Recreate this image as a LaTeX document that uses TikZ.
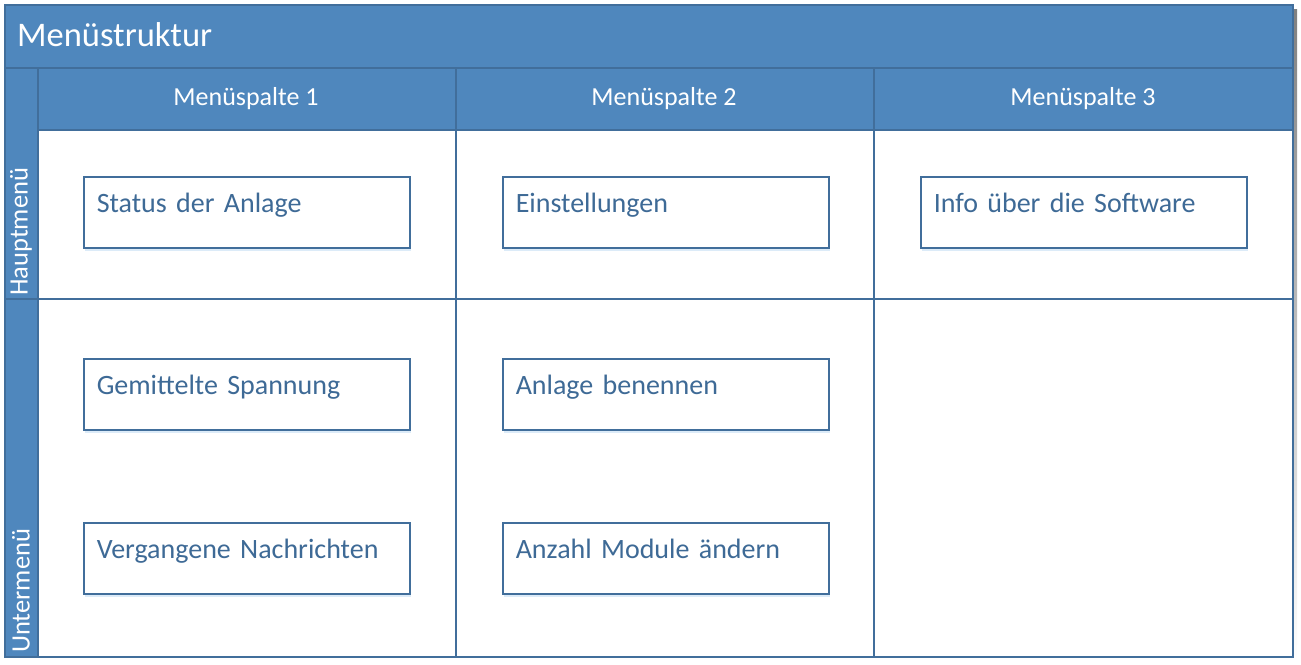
\documentclass[tikz,border=0pt]{standalone}
\usepackage{fontspec}
\setmainfont{Carlito}
\usetikzlibrary{shadows}
\definecolor{hdr}{RGB}{79,135,189}
\definecolor{edge}{RGB}{65,110,155}
\definecolor{txt}{RGB}{62,106,150}
\definecolor{shade}{RGB}{220,235,248}
\begin{document}
\begin{tikzpicture}[x=1pt,y=-1pt,
  hline/.style={draw=edge, line width=1.5pt},
  title/.style={anchor=base west, text=white, font=\fontsize{34.5}{38}\selectfont, inner sep=0},
  colhead/.style={anchor=center, text=white, font=\fontsize{26}{29}\selectfont, inner sep=0},
  rowlabel/.style={rotate=90, anchor=west, text=white, font=\fontsize{26.5}{29}\selectfont, inner sep=0},
  mbox/.style={draw=edge, line width=1.5pt, fill=white, anchor=north west,
    minimum width=326pt, text width=300pt, align=left, inner xsep=13pt, inner ysep=0pt,
    text height=36pt, text depth=35pt, text=txt, font=\fontsize{28}{31}\selectfont,
    drop shadow={shadow xshift=1pt, shadow yshift=-3pt, fill=shade, opacity=1}}
]
\useasboundingbox (0,0) rectangle (1301,664);
% outer shadow
\fill[shade] (7,9) rectangle (1297,662);
% background and bands
\fill[white] (5,5) rectangle (1293,657);
\fill[hdr] (5,5) rectangle (1293,68);
\fill[hdr] (38,68) rectangle (1293,130);
\fill[hdr] (5,68) rectangle (38,657);
% grid lines
\draw[hline] (5,68) -- (1293,68);
\draw[hline] (38,130) -- (1293,130);
\draw[hline] (5,299) -- (1293,299);
\draw[hline] (38,68) -- (38,657);
\draw[hline] (456,68) -- (456,657);
\draw[hline] (874,68) -- (874,657);
\draw[hline] (5,5) rectangle (1293,657);
% texts
\node[title] (t) at (17,46) {Menüstruktur};
\node[colhead] (c1) at (246,99) {Menüspalte 1};
\node[colhead] (c2) at (664,99) {Menüspalte 2};
\node[colhead] (c3) at (1083,99) {Menüspalte 3};
\node[rowlabel] (r1) at (21,296) {Hauptmenü};
\node[rowlabel] (r2) at (21,653) {Untermenü};
% boxes
\node[mbox] (b1) at (83,176) {Status der Anlage};
\node[mbox] (b2) at (502,176) {Einstellungen};
\node[mbox] (b3) at (920,176) {Info über die Software};
\node[mbox] (b4) at (83,358) {Gemittelte Spannung};
\node[mbox] (b5) at (502,358) {Anlage benennen};
\node[mbox] (b6) at (83,522) {Vergangene Nachrichten};
\node[mbox] (b7) at (502,522) {Anzahl Module ändern};
\end{tikzpicture}
\end{document}
